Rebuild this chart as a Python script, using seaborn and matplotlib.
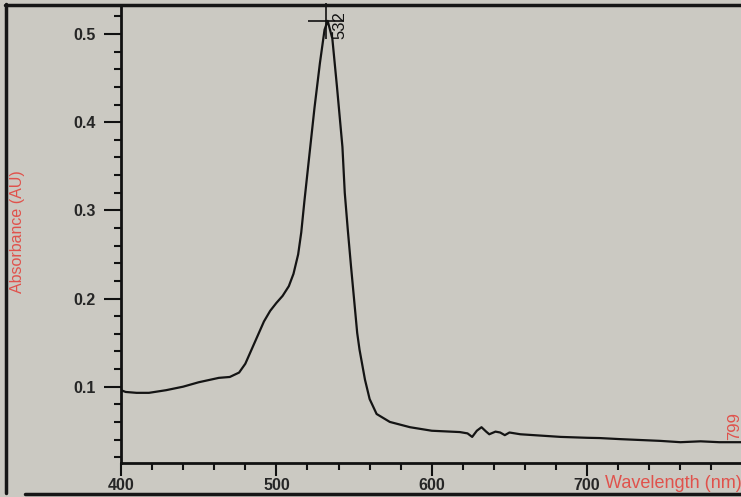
import matplotlib
matplotlib.use("Agg")
import matplotlib.pyplot as plt
from matplotlib.lines import Line2D
from matplotlib.ticker import MultipleLocator
import seaborn as sns
import pandas as pd

sns.set_theme(style="ticks")
plt.rcParams['font.family'] = ['Liberation Sans', 'DejaVu Sans']

# spectrum
wavelength = [400, 403, 410, 418, 429, 440, 450, 463, 470, 476, 480, 484, 488, 492,
              496, 500, 504, 508, 511, 514, 516, 518, 521, 524.5, 528, 531, 533, 536,
              539, 542.5, 544, 546, 548, 550, 552, 553.5, 557, 560, 564.5, 573, 586,
              600, 618, 623, 626, 629, 632, 635, 637, 641, 644, 647, 650, 657, 683,
              700, 708, 721, 747, 760, 773, 785, 799]
absorbance = [0.096, 0.094, 0.093, 0.093, 0.096, 0.100, 0.105, 0.110, 0.111, 0.116,
              0.126, 0.142, 0.158, 0.174, 0.186, 0.195, 0.203, 0.214, 0.228, 0.250,
              0.275, 0.310, 0.359, 0.416, 0.467, 0.505, 0.515, 0.495, 0.440, 0.372,
              0.320, 0.277, 0.237, 0.199, 0.161, 0.142, 0.108, 0.086, 0.069, 0.060,
              0.054, 0.050, 0.0485, 0.047, 0.043, 0.050, 0.054, 0.049, 0.046, 0.049,
              0.048, 0.045, 0.048, 0.046, 0.043, 0.042, 0.0417, 0.0405, 0.0385, 0.037,
              0.038, 0.037, 0.037]
peak_nm = 532
peak_abs = 0.515
x_ticks = [400, 500, 600, 700]
y_ticks = [0.1, 0.2, 0.3, 0.4, 0.5]

df = pd.DataFrame({'wl': wavelength, 'au': absorbance})

bg = '#cbc9c2'
red = '#e0524c'
fig = plt.figure(figsize=(7.41, 4.97), dpi=100, facecolor=bg)
ax = fig.add_axes([121 / 741, 34 / 497, 1 - 121 / 741, 458 / 497])
ax.set_facecolor(bg)

sns.lineplot(data=df, x='wl', y='au', ax=ax, color='#141414', linewidth=1.6)

ax.set_xlim(400, 799)
ax.set_ylim(0.0134, 0.533)
ax.set_xticks(x_ticks)
ax.set_yticks(y_ticks)
ax.set_yticklabels([f'{v:.1f}' for v in y_ticks], fontweight='bold')
ax.set_xticklabels([str(v) for v in x_ticks], fontweight='bold')
ax.xaxis.set_minor_locator(MultipleLocator(20))
ax.yaxis.set_minor_locator(MultipleLocator(0.02))
ax.tick_params(which='major', length=9, width=1.5, color='#111', labelsize=11.5,
               labelcolor='#262626')
ax.tick_params(which='minor', length=5, width=1.5, color='#111')
ax.tick_params(axis='y', which='major', length=12, pad=6)
ax.tick_params(axis='x', which='major', pad=2)
ax.set_xlabel('')
ax.set_ylabel('')
for s in ['top', 'right']:
    ax.spines[s].set_visible(False)
for s in ['left', 'bottom']:
    ax.spines[s].set_linewidth(2)
    ax.spines[s].set_color('#111')

# peak marker and label
ax.plot([peak_nm], [peak_abs], marker='+', markersize=26, mew=1.2, color='#111',
        clip_on=False)
ax.text(peak_nm + 9, 0.494, str(peak_nm), rotation=90, ha='center', va='bottom',
        fontsize=12, color='#111', clip_on=False)
ax.text(795, 0.04, '799', rotation=90, ha='center', va='bottom', fontsize=12,
        color=red)

# axis titles placed as on the instrument screen
fig.text(605 / 741, 1 - 484 / 497, 'Wavelength (nm)', ha='left', va='center',
         fontsize=13, color=red)
fig.text(18 / 741, 1 - 232 / 497, 'Absorbance (AU)', rotation=90, ha='center',
         va='center', fontsize=11.5, color=red)

# window frame of the screen
frame_kw = dict(color='#161616', linewidth=2.5, transform=fig.transFigure)
fig.add_artist(Line2D([6 / 741, 6 / 741], [1 - 493 / 497, 1 - 4 / 497], **frame_kw))
fig.add_artist(Line2D([5 / 741, 1], [1 - 5 / 497, 1 - 5 / 497], **frame_kw))
fig.add_artist(Line2D([25 / 741, 1], [1 - 494 / 497, 1 - 494 / 497], **frame_kw))

fig.savefig('out.png', dpi=100, facecolor=bg)
